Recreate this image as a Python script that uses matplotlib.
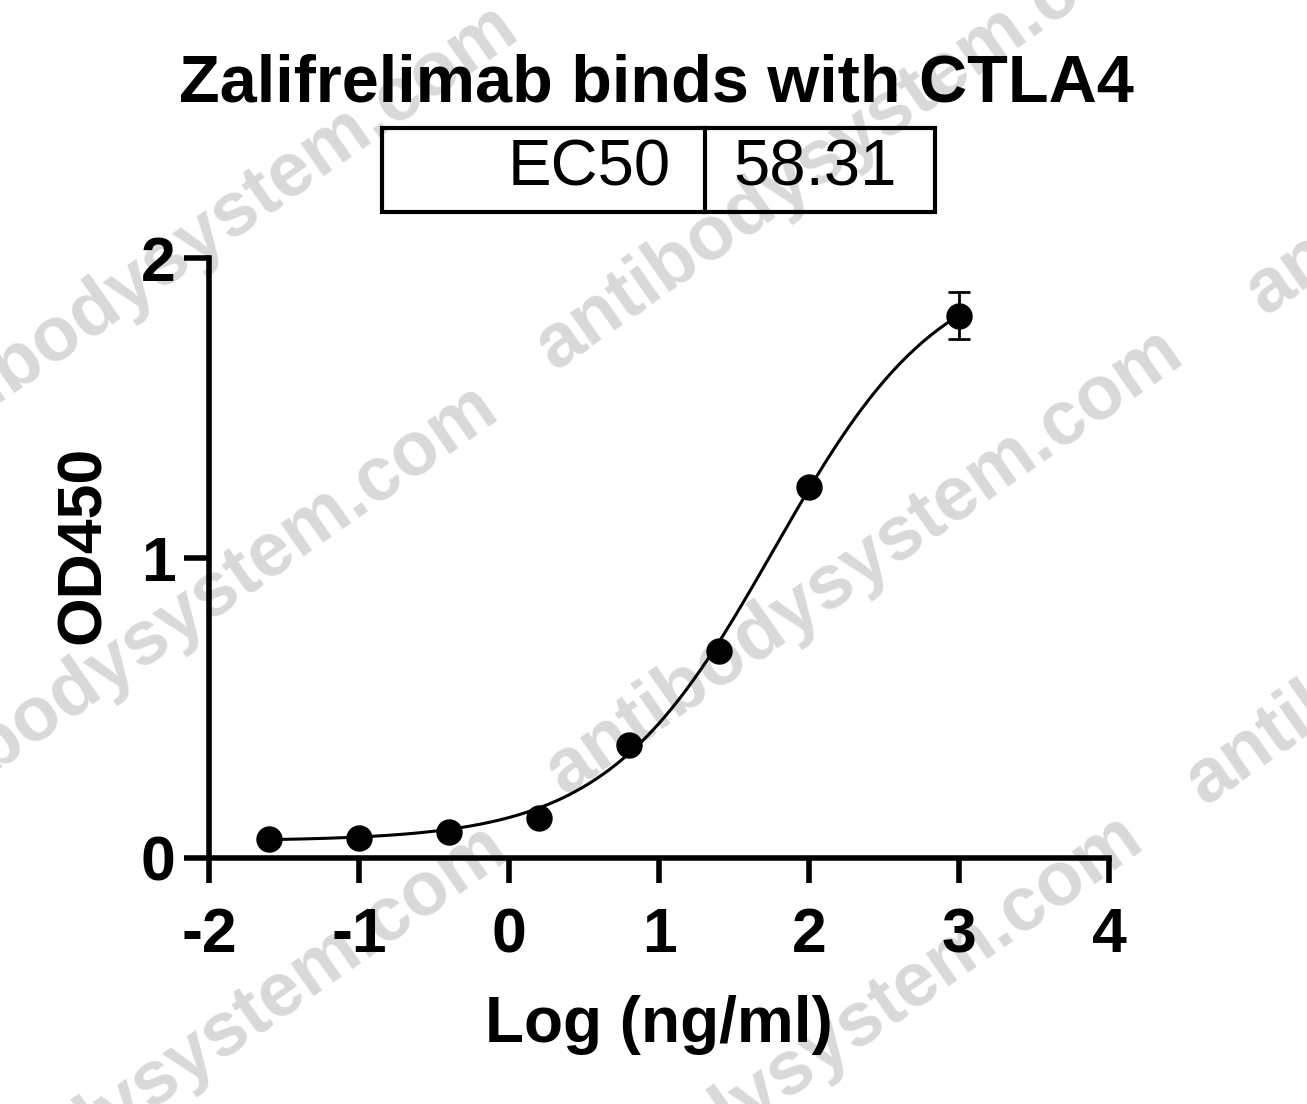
import numpy as np
import matplotlib
matplotlib.use("Agg")
import matplotlib.pyplot as plt

plt.rcParams['font.family'] = ['Liberation Sans', 'DejaVu Sans']

# measured points (log ng/ml vs OD450)
log_conc = [-1.6, -1.0, -0.4, 0.2, 0.8, 1.4, 2.0, 3.0]
od450 = [0.062, 0.065, 0.085, 0.133, 0.374, 0.688, 1.236, 1.808]
od_err = [0, 0, 0, 0, 0, 0, 0, 0.079]

# 4PL fit parameters (EC50 = 58.31 ng/ml)
bottom = 0.055
top = 2.0
ec50 = 58.31
hill = 0.78

title = "Zalifrelimab binds with CTLA4"
xticks = [-2, -1, 0, 1, 2, 3, 4]
yticks = [0, 1, 2]

W, H = 1307, 1104
fig = plt.figure(figsize=(W / 100, H / 100), dpi=100)
ax = fig.add_axes([209 / W, 1 - 857.5 / H, 900 / W, 599.5 / H])
ax.set_zorder(2)

# watermarks (kept underneath the plot)
wm_centers = [(200, 238), (180, 618), (190, 1058), (855, 137), (865, 562),
              (825, 1048), (1505, 572), (1565, 82)]
for cx, cy in wm_centers:
    fig.text(cx / W, 1 - cy / H, "antibodysystem.com", fontsize=55,
             fontweight='bold', color='#d9d9d9', rotation=35,
             ha='center', va='center', rotation_mode='anchor', zorder=0)

xs = np.linspace(min(log_conc), max(log_conc), 300)
fit = bottom + (top - bottom) / (1 + 10 ** ((np.log10(ec50) - xs) * hill))
ax.plot(xs, fit, color='black', lw=2.2, zorder=3)
ax.errorbar(log_conc, od450, yerr=od_err, fmt='o', color='black', ms=18,
            elinewidth=2, capsize=8, capthick=2, zorder=4)

ax.set_xlim(-2, 4)
ax.set_ylim(0, 2)
ax.set_xticks(xticks)
ax.set_yticks(yticks)
ax.set_xticklabels([str(v) for v in xticks])
ax.spines['top'].set_visible(False)
ax.spines['right'].set_visible(False)
for s in ['left', 'bottom']:
    ax.spines[s].set_linewidth(4)
ax.tick_params(axis='both', width=4, length=18, labelsize=45)
ax.tick_params(axis='x', pad=17)
ax.tick_params(axis='y', pad=6)
for lab in ax.get_xticklabels() + ax.get_yticklabels():
    lab.set_fontweight('bold')
ax.patch.set_alpha(0)

ax.set_xlabel("Log (ng/ml)", fontsize=46, fontweight='bold', va='center')
ax.xaxis.set_label_coords(0.5, (857.5 - 1025) / 599.5)
ax.set_ylabel("OD450", fontsize=45, fontweight='bold', va='center')
ax.yaxis.set_label_coords((83 - 209) / 900, (857.5 - 545) / 599.5)

fig.text(656 / W, 1 - 85 / H, title, fontsize=48, fontweight='bold',
         ha='center', va='center')

# EC50 table box
box = plt.Rectangle((382 / W, 1 - 212 / H), (935 - 382) / W, 84 / H,
                    transform=fig.transFigure, fill=False, lw=3, color='black')
fig.add_artist(box)
fig.add_artist(plt.Line2D([705 / W, 705 / W], [1 - 128 / H, 1 - 212 / H],
                          transform=fig.transFigure, lw=3, color='black'))
fig.text(671 / W, 1 - 168 / H, "EC50", fontsize=47, ha='right', va='center')
fig.text(733 / W, 1 - 168 / H, f"{ec50:.2f}", fontsize=47, ha='left', va='center')

fig.savefig("out.png", dpi=100)
